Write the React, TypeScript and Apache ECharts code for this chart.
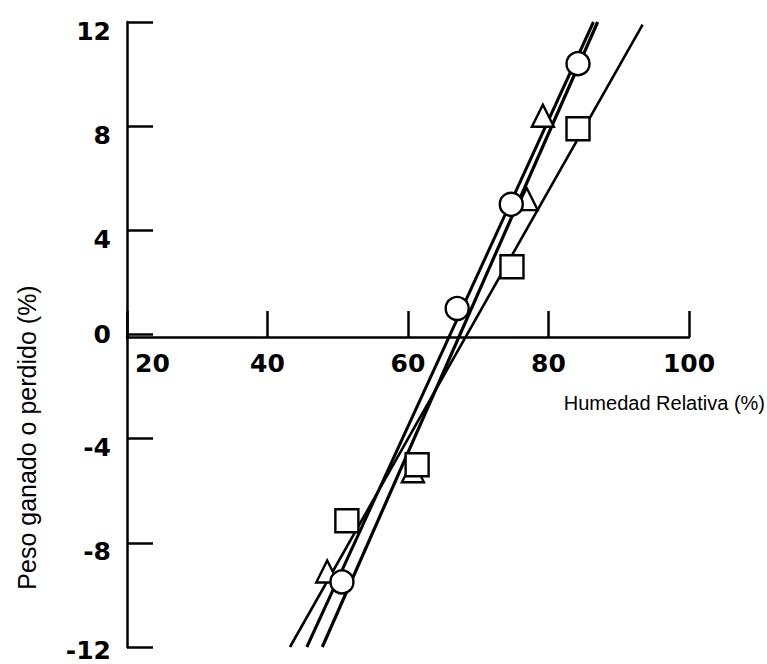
import React, { useEffect, useRef } from "react";
import * as echarts from "echarts";

// Tick settings
const xMin = 20;
const xMax = 100;
const xStep = 20;
const yMin = -12;
const yMax = 12;
const yStep = 4;

// Observed points [humedad relativa %, peso ganado o perdido %]
const circlePoints: [number, number][] = [
  [84.2, 10.4],
  [74.7, 5.0],
  [67.0, 1.0],
  [50.6, -9.5],
];
const trianglePoints: [number, number][] = [
  [79.2, 8.4],
  [76.9, 5.2],
  [60.7, -5.25],
  [48.5, -9.1],
];
const squarePoints: [number, number][] = [
  [84.2, 7.9],
  [74.8, 2.6],
  [61.3, -5.0],
  [51.3, -7.15],
];

// Fitted lines (end points)
const circleLine: [number, number][] = [
  [87.0, 12.0],
  [47.8, -12.0],
];
const triangleLine: [number, number][] = [
  [86.4, 12.0],
  [45.6, -12.0],
];
const squareLine: [number, number][] = [
  [93.4, 11.9],
  [43.2, -12.0],
];

const xName = "Humedad Relativa (%)";
const yName = "Peso ganado o perdido (%)";

export default function App() {
  const ref = useRef<HTMLDivElement>(null);
  useEffect(() => {
    if (!ref.current) return;
    const chart = echarts.init(ref.current, undefined, { renderer: "svg" });
    const labelFont = {
      fontFamily: "DejaVu Sans",
      fontWeight: "bold" as const,
      fontSize: 25,
      color: "#000",
    };
    const markerStyle = {
      color: "#fff",
      borderColor: "#000",
      borderWidth: 2.4,
      opacity: 1,
    };
    chart.setOption({
      animation: false,
      backgroundColor: "#fff",
      grid: {
        left: 127,
        right: 78,
        top: 22,
        bottom: 17,
        containLabel: false,
        outerBoundsMode: "none",
      },
      xAxis: {
        type: "value",
        min: xMin,
        max: xMax,
        interval: xStep,
        offset: -310,
        name: xName,
        nameLocation: "end",
        nameGap: 76,
        nameTextStyle: {
          fontFamily: "Liberation Sans",
          fontSize: 20,
          color: "#000",
          align: "right",
          verticalAlign: "top",
          padding: [56, 0, 0, 0],
        },
        axisLine: { onZero: false, lineStyle: { color: "#000", width: 2.5 } },
        axisTick: { inside: true, length: 26, lineStyle: { color: "#000", width: 2.5 } },
        splitLine: { show: false },
        axisLabel: {
          ...labelFont,
          margin: 14,
          alignMinLabel: "left",
          formatter: (v: number) => (v === xMin ? "{m|" + v + "}" : String(v)),
          rich: {
            m: { ...labelFont, padding: [0, 0, 0, 8] },
          },
        },
      },
      yAxis: {
        type: "value",
        min: yMin,
        max: yMax,
        interval: yStep,
        name: yName,
        nameLocation: "middle",
        nameGap: 88,
        nameTextStyle: {
          fontFamily: "Liberation Sans",
          fontSize: 25,
          color: "#000",
          padding: [0, 206, 0, 0],
        },
        axisLine: { onZero: false, lineStyle: { color: "#000", width: 2.5 } },
        axisTick: { inside: true, length: 26, lineStyle: { color: "#000", width: 2.5 } },
        splitLine: { show: false },
        axisLabel: {
          ...labelFont,
          margin: 16,
          formatter: (v: number) =>
            v === 0 ? "{z|0}" : v === yMin ? "{b|" + v + "}" : "{o|" + v + "}",
          rich: {
            z: { ...labelFont },
            o: { ...labelFont, padding: [18, 0, 0, 0] },
            b: { ...labelFont, padding: [6, 0, 0, 0] },
          },
        },
      },
      series: [
        {
          type: "line",
          data: squareLine,
          symbol: "none",
          lineStyle: { color: "#000", width: 2.6 },
          z: 2,
        },
        {
          type: "line",
          data: triangleLine,
          symbol: "none",
          lineStyle: { color: "#000", width: 3 },
          z: 2,
        },
        {
          type: "line",
          data: circleLine,
          symbol: "none",
          lineStyle: { color: "#000", width: 3.2 },
          z: 2,
        },
        {
          type: "scatter",
          data: trianglePoints,
          symbol: "triangle",
          symbolSize: 22,
          itemStyle: markerStyle,
          z: 3,
        },
        {
          type: "scatter",
          data: squarePoints,
          symbol: "rect",
          symbolSize: 23,
          itemStyle: markerStyle,
          z: 3,
        },
        {
          type: "scatter",
          data: circlePoints,
          symbol: "circle",
          symbolSize: 23,
          itemStyle: markerStyle,
          z: 4,
        },
      ],
    });
    return () => chart.dispose();
  }, []);
  return (
    <div
      ref={ref}
      style={{ position: "absolute", left: 0, top: 0, width: 767, height: 664 }}
    />
  );
}
